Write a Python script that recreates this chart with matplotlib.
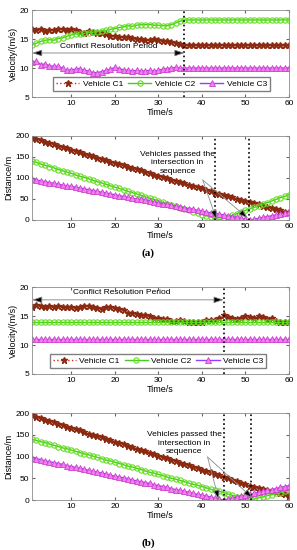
import numpy as np
import matplotlib
matplotlib.use("Agg")
import matplotlib.pyplot as plt

plt.rcParams['font.family'] = ['Liberation Sans', 'DejaVu Sans']

### data ###
t = list(range(1, 61))

# (a) velocity
va_c1 = [16.7, 16.6, 16.7, 16.4, 16.6, 16.5, 16.8, 16.7, 16.6, 16.7,
         16.6, 16.3, 16.1, 16.4, 16.2, 16.0, 16.1, 15.8, 15.6, 15.6,
         15.4, 15.4, 15.3, 15.2, 15.0, 15.0, 14.9, 14.9, 15.0, 14.9,
         14.7, 14.6, 14.5, 14.3, 14.1, 13.9] + [13.9] * 24
va_c2 = [14.0, 14.3, 14.6, 14.8, 14.9, 14.8, 15.1, 15.2, 15.5, 15.7,
         15.9, 15.8, 16.0, 16.1, 16.2, 16.3, 16.4, 16.5, 16.7, 16.8,
         17.0, 17.1, 17.3, 17.2, 17.4, 17.5, 17.5, 17.5, 17.4, 17.4,
         17.3, 17.3, 17.5, 17.8, 18.1, 18.3] + [18.3] * 24
va_c3 = [11.0, 11.2, 10.6, 10.7, 10.4, 10.3, 10.3, 10.0, 9.6, 9.7,
         9.8, 9.9, 9.6, 9.5, 9.2, 9.2, 9.4, 9.6, 9.8, 10.1,
         9.9, 9.7, 9.6, 9.5, 9.6, 9.5, 9.5, 9.6, 9.5, 9.6,
         9.8, 9.9, 10.0, 10.1, 10.0, 10.0] + [10.0] * 24

# (a) distance
da_c1 = [195, 192, 189, 186, 183, 180, 176, 173, 170, 167, 164, 161, 158, 155, 151,
         148, 145, 142, 139, 136, 133, 130, 127, 124, 121, 118, 114, 111, 108, 105,
         102, 99, 96, 93, 90, 87, 84, 81, 78, 75, 71, 68, 65, 62, 59,
         57, 54, 51, 48, 45, 43, 40, 37, 34, 32, 29, 26, 23, 20, 18]
da_c2 = [140, 137, 133, 130, 127, 124, 120, 117, 114, 111, 107, 104, 101, 98, 94,
         91, 88, 85, 81, 78, 75, 72, 68, 65, 62, 59, 55, 52, 49, 46,
         42, 39, 36, 33, 29, 26, 23, 20, 16, 13, 10, 7, 3, 0, 4,
         8, 11, 15, 19, 23, 26, 30, 34, 38, 41, 45, 49, 53, 56, 60]
da_c3 = [97, 95, 93, 91, 89, 87, 85, 83, 81, 80, 78, 76, 74, 72, 70,
         68, 66, 64, 62, 60, 58, 56, 54, 52, 50, 49, 47, 45, 43, 41,
         39, 37, 35, 33, 31, 29, 27, 25, 23, 21, 19, 17, 16, 14, 12,
         10, 8, 6, 4, 2, 0, 2, 4, 6, 8, 10, 12, 14, 16, 18]

# (b) velocity
vb_c1 = [16.5, 16.9, 16.8, 16.6, 16.7, 16.5, 16.8, 16.6, 16.5, 16.6,
         16.4, 16.6, 16.7, 16.8, 16.6, 16.4, 16.3, 16.5, 16.5, 16.4,
         16.3, 16.1, 15.6, 15.5, 15.3, 15.2, 15.2, 15.0, 14.7, 14.6,
         14.5, 14.5, 14.2, 14.1, 14.4, 14.1, 14.0, 14.0, 14.0, 13.9,
         14.3, 14.4, 14.3, 14.6, 15.1, 14.9, 14.7, 14.5, 14.6, 15.0,
         14.8, 14.6, 15.0, 14.8, 14.5, 14.6, 14.2, 14.0, 14.0, 14.0]
vb_c2 = [14.0] * 60
vb_c3 = [11.1] * 60

# (b) distance
db_c1 = [195, 192, 189, 185, 182, 179, 176, 173, 169, 166, 163, 160, 157, 153, 150,
         147, 144, 141, 137, 134, 131, 128, 125, 121, 118, 115, 112, 109, 105, 102,
         99, 96, 93, 89, 86, 83, 80, 77, 73, 70, 67, 64, 61, 57, 54,
         51, 47, 44, 40, 37, 33, 30, 28, 25, 23, 20, 18, 15, 13, 10]
db_c2 = [140, 137, 134, 132, 129, 126, 123, 120, 118, 115, 112, 109, 106, 104, 101,
         98, 95, 92, 90, 87, 84, 81, 78, 76, 73, 70, 67, 64, 62, 59,
         56, 53, 50, 48, 45, 42, 39, 36, 34, 31, 28, 25, 22, 20, 17,
         14, 11, 8, 6, 3, 0, 2, 5, 7, 10, 12, 15, 17, 20, 22]
db_c3 = [97, 95, 93, 90, 88, 86, 84, 82, 79, 77, 75, 73, 71, 68, 66,
         64, 62, 60, 57, 55, 53, 51, 49, 46, 44, 42, 40, 38, 35, 33,
         31, 29, 26, 24, 22, 20, 18, 15, 13, 11, 9, 7, 4, 2, 0,
         2, 4, 7, 9, 11, 13, 15, 18, 20, 22, 24, 26, 29, 31, 33]

labels = ['Vehicle C1', 'Vehicle C2', 'Vehicle C3']

### styles ###
def draw_series(ax, c1, c2, c3):
    l1, = ax.plot(t, c1, ':', color='#d02a10', lw=1.0, marker='*', ms=4.5,
                  mfc='#8b2a10', mec='#8b2a10')
    l2, = ax.plot(t, c2, '-', color='#44cc22', lw=1.0, marker='o', ms=3.8,
                  mfc='none', mec='#66dd22', mew=0.8)
    l3, = ax.plot(t, c3, '-', color='#9040ff', lw=1.0, marker='^', ms=3.8,
                  mfc='#f080f0', mec='#d040d0', mew=0.6)
    return [l1, l2, l3]


def style_axes(ax, ylim, yticks, ylabel):
    ax.set_xlim(1, 60)
    ax.set_ylim(*ylim)
    ax.set_xticks([10, 20, 30, 40, 50, 60])
    ax.set_yticks(yticks)
    ax.tick_params(direction='in', labelsize=6, length=2, top=True, right=True,
                   color='0.4', pad=2)
    for s in ax.spines.values():
        s.set_color('0.55')
        s.set_linewidth(0.6)
    ax.set_xlabel('Time/s', fontsize=6.5, labelpad=1)
    ax.set_ylabel(ylabel, fontsize=6.5, labelpad=1)


def conflict_arrow(ax, x_end, y_arrow, x_text, y_text):
    ax.annotate('', xy=(1, y_arrow), xytext=(x_end, y_arrow),
                arrowprops=dict(arrowstyle='<|-|>,head_length=0.6,head_width=0.2',
                                fc='k', ec='0.5', lw=0.6, shrinkA=0, shrinkB=0))
    ax.text(x_text, y_text, 'Conflict Resolution Period', fontsize=6,
            ha='center', va='center')


def passed_note(ax, xt, yt, start, ends):
    ax.text(xt, yt, 'Vehicles passed the\nintersection in\nsequence', fontsize=6,
            ha='center', va='center', linespacing=1.3)
    for e in ends:
        ax.annotate('', xy=e, xytext=start,
                    arrowprops=dict(arrowstyle='-|>,head_length=0.6,head_width=0.2',
                                    fc='k', ec='0.55', lw=0.6, shrinkA=0, shrinkB=0))


fig = plt.figure(figsize=(2.97, 5.5), dpi=100)

ax1 = fig.add_axes([0.108, 0.8236, 0.865, 0.158])
ax2 = fig.add_axes([0.108, 0.600, 0.865, 0.153])
ax3 = fig.add_axes([0.108, 0.320, 0.865, 0.158])
ax4 = fig.add_axes([0.108, 0.0909, 0.865, 0.158])

# (a) velocity
h = draw_series(ax1, va_c1, va_c2, va_c3)
style_axes(ax1, (5, 20), [5, 10, 15, 20], 'Velocity/(m/s)')
ax1.axvline(36, color='k', ls=':', lw=1.2)
conflict_arrow(ax1, 36, 12.6, 18.7, 13.8)
ax1.legend(h, labels, ncol=3, fontsize=6, loc='center', bbox_to_anchor=(0.504, 0.15),
           numpoints=1, handlelength=2.8, columnspacing=0.6, handletextpad=0.4,
           borderpad=0.35, fancybox=False, edgecolor='0.5', framealpha=1)

# (a) distance
draw_series(ax2, da_c1, da_c2, da_c3)
style_axes(ax2, (0, 200), [0, 50, 100, 150, 200], 'Distance/m')
ax2.axvline(42.9, color='k', ls=':', lw=1.2)
ax2.axvline(50.8, color='k', ls=':', lw=1.2)
passed_note(ax2, 34.4, 136, (40.2, 95), [(43.4, 0), (50.6, 4)])

# (b) velocity
h = draw_series(ax3, vb_c1, vb_c2, vb_c3)
style_axes(ax3, (5, 20), [5, 10, 15, 20], 'Velocity/(m/s)')
ax3.axvline(45, color='k', ls=':', lw=1.2)
conflict_arrow(ax3, 45, 17.8, 21.7, 19.0)
ax3.legend(h, labels, ncol=3, fontsize=6, loc='center', bbox_to_anchor=(0.49, 0.15),
           numpoints=1, handlelength=2.8, columnspacing=0.6, handletextpad=0.4,
           borderpad=0.35, fancybox=False, edgecolor='0.5', framealpha=1)

# (b) distance
draw_series(ax4, db_c1, db_c2, db_c3)
style_axes(ax4, (0, 200), [0, 50, 100, 150, 200], 'Distance/m')
ax4.axvline(45, color='k', ls=':', lw=1.2)
ax4.axvline(51.2, color='k', ls=':', lw=1.2)
passed_note(ax4, 36, 131, (41.3, 99), [(43.9, 0), (51.7, 4)])

fig.text(0.5, 1 - 253 / 550, '(a)', fontsize=8, fontweight='bold',
         family='Liberation Serif', ha='center', va='center')
fig.text(0.5, 1 - 543 / 550, '(b)', fontsize=8, fontweight='bold',
         family='Liberation Serif', ha='center', va='center')

fig.savefig('out.png', dpi=100)
